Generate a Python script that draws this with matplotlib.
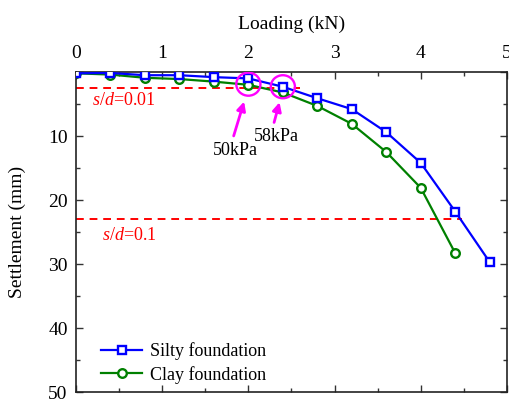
import matplotlib
matplotlib.use("Agg")
import matplotlib.pyplot as plt
from matplotlib.patches import Ellipse
from matplotlib.ticker import MultipleLocator, FuncFormatter

plt.rcParams["font.family"] = ["Liberation Serif", "DejaVu Serif"]
plt.rcParams["mathtext.fontset"] = "custom"
plt.rcParams["mathtext.it"] = "Liberation Serif:italic"
plt.rcParams["mathtext.rm"] = "Liberation Serif"

load = [0, 0.4, 0.8, 1.2, 1.6, 2.0, 2.4, 2.8, 3.2, 3.6, 4.0, 4.4, 4.8]
silty = [0.2, 0.15, 0.5, 0.5, 0.8, 1.0, 2.3, 4.1, 5.8, 9.4, 14.2, 21.8, 29.7]
clay = [0.2, 0.4, 0.9, 1.1, 1.5, 2.0, 3.2, 5.3, 8.1, 12.5, 18.1, 28.3]

limit_values = [2.5, 23.0]
limit_ends = [2.6, 4.48]
limit_labels = ["$s/d$=0.01", "$s/d$=0.1"]

marked_points = [(2.0, 1.9), (2.4, 2.3)]
marked_labels = ["50kPa", "58kPa"]

fig = plt.figure(figsize=(5.10, 4.01), dpi=100)
ax = fig.add_axes([0.149, 0.0224, 0.845, 0.798])

for value, end in zip(limit_values, limit_ends):
    ax.plot([0, end], [value, value], color="red", linestyle=(0, (4, 3)), linewidth=1.4, zorder=1)

ax.plot(load, silty, color="#0000ff", marker="s", markersize=5.5, markerfacecolor="white",
        markeredgewidth=1.7, linewidth=1.6, label="Silty foundation", zorder=3)
ax.plot(load[:len(clay)], clay, color="#008000", marker="o", markersize=6.2,
        markerfacecolor="white", markeredgewidth=1.7, linewidth=1.6,
        label="Clay foundation", zorder=2)

ax.text(0.19, 4.5, limit_labels[0], color="red", fontsize=13, ha="left", va="center")
ax.text(0.3, 25.5, limit_labels[1], color="red", fontsize=13, ha="left", va="center")

for (px, py) in marked_points:
    ax.add_patch(Ellipse((px, py), 0.28, 3.6, fill=False, edgecolor="#ff00ff", linewidth=1.7, zorder=4))

ax.annotate("", xy=(1.96, 4.2), xytext=(1.82, 10.4),
            arrowprops=dict(arrowstyle="-|>", color="#ff00ff", lw=2, mutation_scale=13))
ax.annotate("", xy=(2.37, 4.3), xytext=(2.29, 8.3),
            arrowprops=dict(arrowstyle="-|>", color="#ff00ff", lw=2, mutation_scale=13))
ax.text(1.85, 12.2, marked_labels[0], fontsize=13, ha="center", va="center")
ax.text(2.33, 10.1, marked_labels[1], fontsize=13, ha="center", va="center")

ax.set_xlim(0, 5)
ax.set_ylim(50, 0)
ax.xaxis.set_label_position("top")
ax.xaxis.tick_top()
ax.set_xlabel("Loading (kN)", fontsize=14, labelpad=12)
ax.set_ylabel("Settlement (mm)", fontsize=14, labelpad=16)
ax.xaxis.set_major_locator(MultipleLocator(1))
ax.xaxis.set_minor_locator(MultipleLocator(0.5))
ax.yaxis.set_major_locator(MultipleLocator(10))
ax.yaxis.set_minor_locator(MultipleLocator(5))
ax.yaxis.set_major_formatter(FuncFormatter(lambda v, _: "" if v == 0 else f"{v:g}"))
ax.tick_params(which="both", direction="in", top=True, bottom=True, left=True, right=True,
               labelsize=14, labelbottom=False, color="#333333")
ax.tick_params(axis="x", which="major", pad=7)
ax.tick_params(axis="y", which="major", pad=6)
ax.tick_params(which="major", length=5, width=1)
ax.tick_params(which="minor", length=3, width=1)
for spine in ax.spines.values():
    spine.set_linewidth(1.2)
    spine.set_color("#222222")

ax.legend(loc="lower left", bbox_to_anchor=(0.02, -0.025), frameon=False, fontsize=13,
          handlelength=2.3, handletextpad=0.4, labelspacing=0.3)

fig.savefig("out.png", dpi=100)
